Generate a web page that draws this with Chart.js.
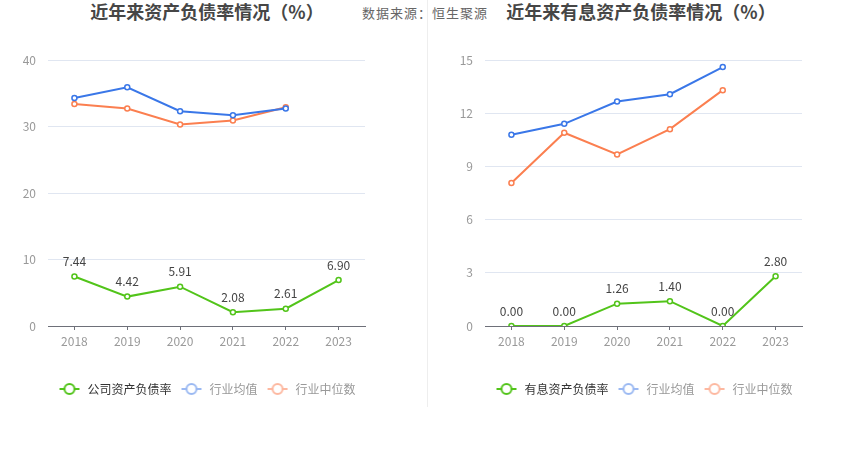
<!DOCTYPE html>
<html><head><meta charset="utf-8">
<script src="https://cdn.jsdelivr.net/npm/chart.js@4/dist/chart.umd.min.js"></script>
<style>
html,body{margin:0;padding:0;background:#fff;}
#wrap{position:relative;width:850px;height:458px;overflow:hidden;font-family:"Noto Sans CJK SC","Noto Sans",sans-serif;}
.title{position:absolute;top:-2px;font-size:18px;font-weight:bold;color:#464646;white-space:nowrap;transform:translateX(-50%);}
#src{position:absolute;left:362px;top:3px;font-size:13px;letter-spacing:1px;color:#666;white-space:nowrap;}
#divider{position:absolute;left:427px;top:0;width:1px;height:407px;background:#eeeeee;}
#c1wrap{position:absolute;left:0;top:0;width:427px;height:458px;}
#c2wrap{position:absolute;left:427px;top:0;width:423px;height:458px;}
</style></head>
<body><div id="wrap">
<div class="title" style="left:207px">近年来资产负债率情况（%）</div>
<div class="title" style="left:641px">近年来有息资产负债率情况（%）</div>
<div id="src">数据来源：恒生聚源</div>
<div id="divider"></div>
<div id="c1wrap"><canvas id="c1" width="427" height="458"></canvas></div>
<div id="c2wrap"><canvas id="c2" width="423" height="458"></canvas></div>
</div>
<script>
const years = ["2018","2019","2020","2021","2022","2023"];
const companyDebt = [7.44, 4.42, 5.91, 2.08, 2.61, 6.90];
const industryAvgDebt = [34.3, 35.9, 32.3, 31.7, 32.7, null];
const industryMedDebt = [33.4, 32.7, 30.3, 30.9, 32.9, null];
const companyInterest = [0.00, 0.00, 1.26, 1.40, 0.00, 2.80];
const industryAvgInterest = [10.78, 11.4, 12.66, 13.07, 14.6, null];
const industryMedInterest = [8.06, 10.9, 9.67, 11.1, 13.3, null];
const leftTicks = [0, 10, 20, 30, 40];
const rightTicks = [0, 3, 6, 9, 12, 15];
const seriesNames1 = ["公司资产负债率", "行业均值", "行业中位数"];
const seriesNames2 = ["有息资产负债率", "行业均值", "行业中位数"];

const GREEN = "#52c41a", BLUE = "#3a77e8", ORANGE = "#fb7f50";
const LEG_COLORS = [GREEN, "#9bb9f2", "#fdb8a0"];
const LEG_TEXT = ["#333333", "#999999", "#999999"];
const FONT = '"Noto Sans CJK SC","Noto Sans",sans-serif';

function legendIcon(color){
  const c = document.createElement('canvas');
  c.width = 22; c.height = 14;
  const g = c.getContext('2d');
  g.strokeStyle = color; g.lineWidth = 2;
  g.beginPath(); g.moveTo(1,7); g.lineTo(21,7); g.stroke();
  g.beginPath(); g.arc(11,7,5,0,Math.PI*2); g.fillStyle="#fff"; g.fill(); g.stroke();
  return c;
}
const icons = LEG_COLORS.map(legendIcon);

const labelPlugin = {
  id: 'valLabels',
  afterDatasetsDraw(chart){
    const ctx = chart.ctx;
    const meta = chart.getDatasetMeta(0);
    const data = chart.data.datasets[0].data;
    ctx.save();
    ctx.font = '12px ' + FONT;
    ctx.fillStyle = '#444';
    ctx.textAlign = 'center';
    ctx.textBaseline = 'middle';
    meta.data.forEach((pt, i) => {
      ctx.fillText(data[i].toFixed(2), pt.x, pt.y - 15);
    });
    ctx.restore();
  }
};

function makeChart(id, names, d0, d1, d2, ticks, max, padL, padR){
  return new Chart(document.getElementById(id), {
    type: 'line',
    data: {
      labels: years,
      datasets: [
        {label: names[0], data: d0, borderColor: GREEN, backgroundColor: '#fff', order: 0},
        {label: names[1], data: d1, borderColor: BLUE, backgroundColor: '#fff', order: 1},
        {label: names[2], data: d2, borderColor: ORANGE, backgroundColor: '#fff', order: 2}
      ]
    },
    options: {
      responsive: false,
      animation: false,
      devicePixelRatio: 1,
      layout: {padding: {left: padL, right: padR, top: 60, bottom: 53}},
      elements: {
        line: {borderWidth: 2, tension: 0},
        point: {radius: 2.5, borderWidth: 1.5, hoverRadius: 3}
      },
      scales: {
        x: {
          offset: true,
          grid: {display: true, drawOnChartArea: false, drawTicks: true, tickLength: 4, color: '#6e7079', offset: false},
          border: {display: true, color: '#6e7079'},
          ticks: {color: '#999', font: {size: 12, family: FONT}, padding: 4, maxRotation: 0},
          afterFit(s){ s.height = 49; }
        },
        y: {
          min: 0, max: max,
          afterBuildTicks(s){ s.ticks = ticks.map(v => ({value: v})); },
          grid: {color: '#e0e6f1', drawTicks: false},
          border: {display: false},
          ticks: {color: '#999', font: {size: 12, family: FONT}, padding: 12},
          afterFit(s){ s.width = 48; }
        }
      },
      plugins: {
        legend: {
          position: 'bottom',
          fullSize: false,
          labels: {
            usePointStyle: true,
            pointStyleWidth: 24,
            boxHeight: 12,
            padding: 8,
            font: {size: 12, family: FONT},
            generateLabels(chart){
              return chart.data.datasets.map((ds, i) => ({
                text: ds.label, pointStyle: icons[i], fontColor: LEG_TEXT[i],
                fillStyle: '#fff', strokeStyle: LEG_COLORS[i], lineWidth: 0,
                hidden: false, datasetIndex: i
              }));
            }
          },
          onClick(){}
        },
        tooltip: {enabled: false},
        title: {display: false}
      }
    },
    plugins: [labelPlugin]
  });
}

makeChart('c1', seriesNames1, companyDebt, industryAvgDebt, industryMedDebt, leftTicks, 40, 0, 62);
makeChart('c2', seriesNames2, companyInterest, industryAvgInterest, industryMedInterest, rightTicks, 15, 10, 48);
</script>
</body></html>
